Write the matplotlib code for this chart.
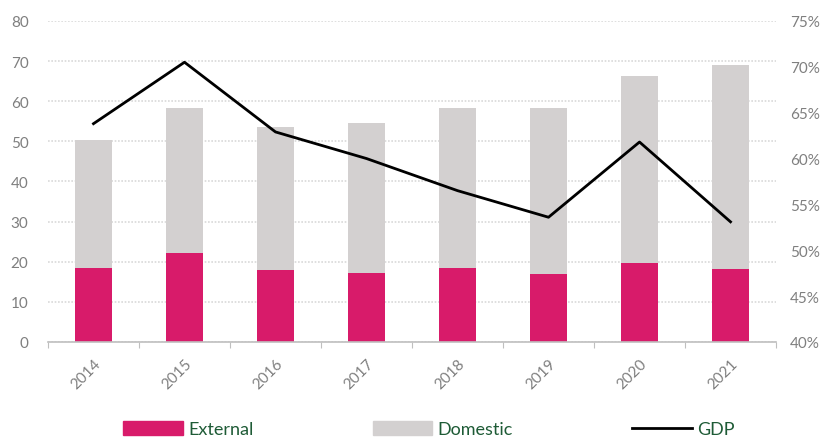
import numpy as np
import matplotlib.pyplot as plt
from matplotlib.lines import Line2D
from matplotlib.patches import Patch

# data: debt stock by source (left axis) and debt-to-GDP ratio (right axis)
years = ['2014', '2015', '2016', '2017', '2018', '2019', '2020', '2021']
external = [18.5, 22.2, 18.0, 17.2, 18.5, 17.0, 19.7, 18.2]
domestic = [31.9, 36.1, 35.5, 37.3, 39.8, 41.3, 46.6, 50.9]
gdp_pct = [63.8, 70.5, 62.9, 60.0, 56.5, 53.6, 61.8, 53.1]

plt.rcParams['font.family'] = ['Lato', 'DejaVu Sans']

fig = plt.figure(figsize=(8.33, 4.39), dpi=100)
ax = fig.add_axes([0.0576, 0.2187, 0.874, 0.7313])
ax2 = ax.twinx()

x = np.arange(len(years))
ax.bar(x, external, width=0.4, color='#D81B6A', zorder=2)
ax.bar(x, domestic, width=0.4, bottom=external, color='#D3D0D0', zorder=2)
ax2.plot(x, gdp_pct, color='black', lw=2, zorder=3)

ax.set_xlim(-0.5, len(years) - 0.5)
ax.set_ylim(0, 80)
ax.set_yticks(np.arange(0, 81, 10))
ax2.set_ylim(40, 75)
ax2.set_yticks(np.arange(40, 76, 5))
ax2.set_yticklabels(['%d%%' % v for v in range(40, 76, 5)])

# horizontal dotted grid
ax.yaxis.grid(True, color='#D9D9D9', lw=1.2, ls=(0, (1, 1)), zorder=0)
ax.set_axisbelow(True)

# category ticks sit on the band edges, labels at the centres
ax.set_xticks(np.arange(-0.5, len(years), 1.0))
ax.set_xticklabels([])
ax.set_xticks(x, minor=True)
ax.set_xticklabels(years, minor=True, rotation=45, ha='right',
                   rotation_mode='anchor', color='#7F7F7F', fontsize=11)
ax.tick_params(axis='x', which='major', length=4, color='#BFBFBF')
ax.tick_params(axis='x', which='minor', length=0, pad=10)
ax.tick_params(axis='y', length=0, labelcolor='#7F7F7F', labelsize=11, pad=14)
ax2.tick_params(axis='y', length=0, labelcolor='#7F7F7F', labelsize=11, pad=10)

for a in (ax, ax2):
    for s in ('top', 'left', 'right', 'bottom'):
        a.spines[s].set_visible(False)
ax.spines['bottom'].set_visible(True)
ax.spines['bottom'].set_color('#BFBFBF')
ax.spines['bottom'].set_linewidth(1.2)

handles = [Patch(color='#D81B6A'), Patch(color='#D3D0D0'),
           Line2D([], [], color='black', lw=2)]
leg = fig.legend(handles, ['External', 'Domestic', 'GDP'], loc='lower center',
                 bbox_to_anchor=(0.515, -0.035), ncol=3, frameon=False,
                 columnspacing=6.6, handlelength=3.3, handleheight=0.8,
                 handletextpad=0.3, fontsize=13)
for t in leg.get_texts():
    t.set_color('#1E5B36')

fig.savefig('out.png', dpi=100)
